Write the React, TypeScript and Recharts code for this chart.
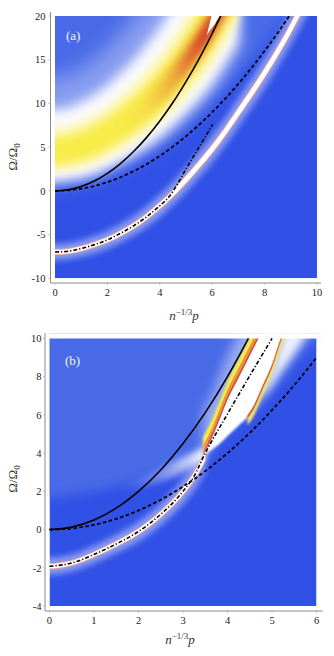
import React from "react";
import { ComposedChart, Area, Line, XAxis, YAxis } from "recharts";

// ---------- panel (a) ----------
const aSolidP = [0, 0.5, 1, 1.5, 2, 2.5, 3, 3.5, 4, 4.5, 5, 5.5, 6, 6.32];
const aSolidW = [0, 0.13, 0.5, 1.12, 2, 3.12, 4.5, 6.12, 8, 10.1, 12.5, 15.1, 18, 20];

const aDashP = [0, 0.5, 1, 1.5, 2, 2.5, 3, 3.5, 4, 4.5, 5, 5.5, 6, 6.5, 7, 7.5, 8, 8.5, 8.94];
const aDashW = [0, 0.06, 0.25, 0.56, 1, 1.56, 2.25, 3.06, 4, 5.06, 6.25, 7.56, 9, 10.56, 12.25, 14.06, 16, 18.06, 20];

const aDotP = [0, 0.5, 1, 1.5, 2, 2.5, 3, 3.5, 4, 4.4, 4.7, 5, 5.5, 6.02];
const aDotW = [-7.0, -6.9, -6.6, -6.15, -5.6, -4.85, -4.0, -2.95, -1.7, -0.5, 0.9, 2.5, 5.0, 7.6];

// thin white/red ridge
const aThinP = [-0.5, 0, 0.5, 1, 1.5, 2, 2.5, 3, 3.5, 4, 4.5, 5, 5.5, 6, 6.5, 7, 7.5, 8, 8.5, 9, 9.3, 9.6];
const aThinC = [-7.0, -7.0, -6.9, -6.6, -6.15, -5.6, -4.85, -4.0, -2.95, -1.7, -0.3, 1.3, 3.0, 4.8, 6.8, 9.0, 11.2, 13.5, 15.95, 18.6, 20.3, 22.0];
const aThinW = [0.26, 0.26, 0.26, 0.27, 0.28, 0.29, 0.3, 0.32, 0.34, 0.36, 0.38, 0.4, 0.42, 0.44, 0.45, 0.47, 0.48, 0.5, 0.51, 0.53, 0.54, 0.55];

// broad yellow/red band
const aBroadP = [-0.5, 0, 0.5, 1, 1.5, 2, 2.5, 3, 3.5, 4, 4.5, 5, 5.5, 6, 6.5, 7];
const aBroadC = [4.4, 4.4, 4.6, 5.0, 5.6, 6.4, 7.4, 8.5, 9.8, 11.2, 12.9, 14.8, 16.9, 19.2, 22.0, 25.0];
const aBroadW = [1.9, 1.9, 1.9, 2.0, 2.1, 2.2, 2.35, 2.5, 2.7, 2.9, 3.15, 3.4, 3.7, 4.0, 4.3, 4.6];

const aSliverP = [5.79, 5.9, 6.0, 6.1, 6.2, 6.3, 6.4];
const aSliverLo = [17.8, 18.3, 18.7, 19.1, 19.6, 20.0, 20.5];
const aSliverHi = [17.8, 19.1, 20.3, 21.0, 21.0, 21.0, 21.0];

// lighter blue region (upper left)
const aShadeP = [-0.5, 0, 1, 2, 3, 4, 5, 6, 7, 8, 9, 10, 10.5];
const aShadeLo = [0.8, 0.8, 1.2, 2.2, 3.6, 5.2, 7.4, 10.0, 13.2, 16.8, 20.8, 25.0, 27.0];

const aTicksX = [0, 2, 4, 6, 8, 10];
const aTicksY = [-10, -5, 0, 5, 10, 15, 20];

// ---------- panel (b) ----------
const bSolidP = [0, 0.5, 1, 1.5, 2, 2.5, 3, 3.5, 4, 4.47];
const bSolidW = [0, 0.13, 0.5, 1.12, 2, 3.12, 4.5, 6.12, 8, 10];

const bDashP = [0, 0.5, 1, 1.5, 2, 2.5, 3, 3.5, 4, 4.5, 5, 5.5, 6];
const bDashW = [0, 0.06, 0.25, 0.56, 1, 1.56, 2.25, 3.06, 4, 5.06, 6.25, 7.56, 9];

const bDotP = [0, 0.5, 1, 1.5, 2, 2.5, 3, 3.25, 3.5, 4, 4.5, 5];
const bDotW = [-1.92, -1.75, -1.3, -0.75, -0.1, 0.8, 2.0, 2.8, 4.0, 6.05, 8.05, 10.0];

const bThinP = [-0.5, 0, 0.5, 1, 1.5, 2, 2.5, 3, 3.25, 3.5];
const bThinC = [-1.92, -1.92, -1.75, -1.3, -0.75, -0.1, 0.8, 2.0, 2.8, 3.85];
const bThinW = [0.12, 0.12, 0.12, 0.125, 0.13, 0.14, 0.155, 0.18, 0.2, 0.23];

const bShadeP = [-0.5, 0, 1, 2, 3, 3.5, 4, 4.5, 5, 5.5, 6, 6.5];
const bShadeLo = [1.7, 1.7, 2.0, 2.6, 3.5, 4.0, 5.0, 6.1, 7.3, 8.6, 9.9, 11.2];

const bEdgeP = [3.45, 3.6, 3.8, 4.0, 4.25, 4.5, 4.75, 5.0, 5.25];
const bEdgeL = [3.95, 4.6, 5.7, 6.85, 8.0, 9.15, 10.3, 11.4, 12.5];

const bRimP = [4.45, 4.6, 4.8, 5.0, 5.2, 5.4, 5.6];
const bRimW = [5.9, 6.45, 7.5, 8.55, 9.95, 11.2, 12.4];

const bGapP = [3.45, 3.6, 3.8, 4.0, 4.25, 4.45, 4.6, 4.8, 5.0, 5.2, 5.4];
const bGapLo = [3.9, 4.1, 4.45, 4.9, 5.45, 5.9, 6.45, 7.5, 8.55, 9.95, 11.2];
const bGapHi = [3.95, 4.6, 5.7, 6.85, 8.0, 8.95, 9.65, 10.6, 11.4, 12.3, 13.2];

const bGlowP = [4.4, 4.6, 4.8, 5.0, 5.2, 5.4, 5.6, 5.8, 6.0];
const bGlowLo = [5.8, 6.35, 6.95, 7.5, 8.2, 8.85, 9.5, 10.2, 10.9];
const bGlowHi = [6.0, 6.45, 7.5, 8.55, 9.95, 11.2, 12.4, 13.5, 14.5];

const bFanP = [1.6, 2.0, 2.5, 3.0, 3.5];
const bFanLo = [2.05, 2.2, 2.5, 3.0, 3.7];
const bFanHi = [2.15, 2.6, 3.2, 3.8, 4.3];

const bTicksX = [0, 1, 2, 3, 4, 5, 6];
const bTicksY = [-4, -2, 0, 2, 4, 6, 8, 10];

// ---------- helpers ----------
type Row = { p: number; v?: number; r?: number[] };
const curve = (ps: number[], ws: number[]): Row[] => ps.map((p, i) => ({ p, v: ws[i] }));
const span = (ps: number[], lo: number[], hi: number[]): Row[] =>
  ps.map((p, i) => ({ p, r: [lo[i], hi[i]] }));
const around = (ps: number[], c: number[], hw: number[], kLo: number, kHi: number): Row[] =>
  ps.map((p, i) => ({ p, r: [c[i] - kLo * hw[i], c[i] + kHi * hw[i]] }));
const offset = (ps: number[], base: number[], dLo: number, dHi: number): Row[] =>
  ps.map((p, i) => ({ p, r: [base[i] + dLo, base[i] + dHi] }));
const flat = (ps: number[], lo: number, hi: number): Row[] => ps.map((p) => ({ p, r: [lo, hi] }));

const SERIF = '"Liberation Serif", "Times New Roman", "DejaVu Serif", serif';
const BLUE = "#3050e6";
const SHADE = "#4a6be7";
const YELLOW = "#f8ec48";
const PALE = "#fcf7b8";
const ORANGE = "#ea9538";
const RED = "#d2452a";
const FRINGE = "#f0a090";

const heat = (key: string, data: Row[], fill: string, blur?: string, opacity = 1) => (
  <Area
    key={key}
    data={data}
    dataKey="r"
    type="monotone"
    stroke="none"
    fill={fill}
    fillOpacity={opacity}
    filter={blur ? `url(#${blur})` : undefined}
    dot={false}
    activeDot={false}
    isAnimationActive={false}
  />
);

const curveLine = (key: string, data: Row[], dash?: string, width = 1.6) => (
  <Line
    key={key}
    data={data}
    dataKey="v"
    type="monotone"
    stroke="#000"
    strokeWidth={width}
    strokeDasharray={dash}
    dot={false}
    activeDot={false}
    isAnimationActive={false}
  />
);

const blurDefs = (prefix: string) => (
  <defs>
    {[0.5, 1, 3, 4, 6, 10].map((s) => (
      <filter key={s} id={`${prefix}${String(s).replace(".", "_")}`} x="-50%" y="-50%" width="200%" height="200%">
        <feGaussianBlur stdDeviation={s} />
      </filter>
    ))}
    <linearGradient id={`${prefix}Or`} x1="0" y1="0" x2="1" y2="0">
      <stop offset="0" stopColor={ORANGE} stopOpacity={0} />
      <stop offset="0.22" stopColor={ORANGE} stopOpacity={0.15} />
      <stop offset="0.45" stopColor={ORANGE} stopOpacity={0.75} />
      <stop offset="0.6" stopColor={ORANGE} stopOpacity={1} />
      <stop offset="1" stopColor={ORANGE} stopOpacity={1} />
    </linearGradient>
    <linearGradient id={`${prefix}Rd`} x1="0" y1="0" x2="1" y2="0">
      <stop offset="0" stopColor={RED} stopOpacity={0} />
      <stop offset="0.2" stopColor={RED} stopOpacity={0.35} />
      <stop offset="0.45" stopColor={RED} stopOpacity={0.95} />
      <stop offset="1" stopColor={RED} stopOpacity={1} />
    </linearGradient>
    <linearGradient id={`${prefix}Fan`} x1="0" y1="0" x2="1" y2="0">
      <stop offset="0" stopColor="#ffffff" stopOpacity={0} />
      <stop offset="0.5" stopColor="#ffffff" stopOpacity={0.35} />
      <stop offset="1" stopColor="#ffffff" stopOpacity={0.9} />
    </linearGradient>
  </defs>
);

const tickFont = { fontFamily: SERIF, fontSize: 10.5, fill: "#222" };
const AXIS = "#8a8a8a";

function PanelA() {
  const xd: [number, number] = [-0.172, 10.153];
  const yd: [number, number] = [-10.54, 20.46];
  return (
    <ComposedChart width={334} height={320} margin={{ top: 12, right: 13, bottom: 0, left: 0 }}>
      {blurDefs("a")}
      <XAxis dataKey="p" type="number" domain={xd} ticks={aTicksX} allowDataOverflow height={37}
        axisLine={{ stroke: AXIS }} tickLine={{ stroke: "#bbb" }} tickSize={2} tickMargin={4} tick={tickFont} />
      <XAxis xAxisId="t" orientation="top" dataKey="p" type="number" domain={xd} ticks={aTicksX} allowDataOverflow
        height={0} axisLine={{ stroke: "#b5b5b5" }} tickLine={{ stroke: "#c8c8c8" }} tickSize={2} tick={false} />
      <YAxis type="number" domain={yd} ticks={aTicksY} allowDataOverflow width={50.5}
        axisLine={{ stroke: AXIS }} tickLine={{ stroke: "#bbb" }} tickSize={2} tickMargin={3} tick={tickFont} />
      <YAxis yAxisId="r" orientation="right" type="number" domain={yd} ticks={aTicksY} allowDataOverflow width={0}
        axisLine={{ stroke: "#d0d0d0" }} tickLine={{ stroke: "#c8c8c8" }} tickSize={2} tick={false} />

      {heat("bg", flat([0, 10], -10, 20), BLUE)}
      {heat("shade", span(aShadeP, aShadeLo, aShadeP.map(() => 32)), SHADE, "a6")}
      {heat("glow", around(aBroadP, aBroadC, aBroadW, 1.9, 4.5), "#ffffff", "a10", 0.35)}
      {heat("halo", around(aBroadP, aBroadC, aBroadW, 1.75, 2.6), "#ffffff", "a6", 0.95)}
      {heat("pale", around(aBroadP, aBroadC, aBroadW, 1.2, 1.5), PALE, "a4")}
      {heat("yel", around(aBroadP, aBroadC, aBroadW, 0.75, 0.9), YELLOW, "a4")}
      {heat("or", around(aBroadP.slice(6), aBroadC.slice(6), aBroadW.slice(6), 0.5, 0.5), "url(#aOr)", "a4")}
      {heat("rd", around(aBroadP.slice(10), aBroadC.slice(10), aBroadW.slice(10), 0.3, 0.3), "url(#aRd)", "a3")}
      {heat("sliver", span(aSliverP, aSliverLo, aSliverHi), "#ffffff", "a0_5")}

      {heat("thinHalo", around(aThinP, aThinC, aThinW, 3.4, 3.4), "#ffffff", "a3", 0.45)}
      {heat("thinFringe", around(aThinP, aThinC, aThinW, 1.35, 1.35), FRINGE, "a0_5")}
      {heat("thinCore", around(aThinP, aThinC, aThinW, 1, 1), "#ffffff", "a0_5")}

      {heat("mL", flat([-1, 0], -12, 22), "#ffffff")}
      {heat("mR", flat([10, 11], -12, 22), "#ffffff")}
      {heat("mT", flat([-1, 11], 20, 22), "#ffffff")}
      {heat("mB", flat([-1, 11], -12, -10), "#ffffff")}

      {curveLine("solid", curve(aSolidP, aSolidW))}
      {curveLine("dash", curve(aDashP, aDashW), "3.5 2.5", 1.8)}
      {curveLine("dot", curve(aDotP, aDotW), "4 2 1.2 2", 1.6)}
    </ComposedChart>
  );
}

function PanelB() {
  const xd: [number, number] = [-0.101, 6.139];
  const yd: [number, number] = [-4.26, 10.27];
  return (
    <ComposedChart width={334} height={327} margin={{ top: 12.3, right: 11.3, bottom: 0, left: 0 }}>
      {blurDefs("b")}
      <XAxis dataKey="p" type="number" domain={xd} ticks={bTicksX} allowDataOverflow height={37}
        axisLine={{ stroke: AXIS }} tickLine={{ stroke: "#bbb" }} tickSize={2} tickMargin={4} tick={tickFont} />
      <XAxis xAxisId="t" orientation="top" dataKey="p" type="number" domain={xd} ticks={bTicksX} allowDataOverflow
        height={0} axisLine={false} tickLine={{ stroke: "#c8c8c8" }} tickSize={2} tick={false} />
      <YAxis type="number" domain={yd} ticks={bTicksY} allowDataOverflow width={45}
        axisLine={{ stroke: AXIS }} tickLine={{ stroke: "#bbb" }} tickSize={2} tickMargin={1.5} tick={tickFont} />
      <YAxis yAxisId="r" orientation="right" type="number" domain={yd} ticks={bTicksY} allowDataOverflow width={0}
        axisLine={false} tickLine={{ stroke: "#c8c8c8" }} tickSize={2} tick={false} />

      {heat("bg", flat([0, 6], -4, 10), BLUE)}
      {heat("shade", span(bShadeP, bShadeLo, bShadeP.map(() => 12)), SHADE, "b6")}
      {heat("fan", span(bFanP, bFanLo, bFanHi), "url(#bFan)", "b3")}
      {heat("haze", offset(bEdgeP, bEdgeL, -0.3, 2.2), "#ffffff", "b6", 0.45)}
      {heat("glow", span(bGlowP, bGlowLo, bGlowHi), "#ffffff", "b4", 0.9)}
      {heat("gap", span(bGapP, bGapLo, bGapHi), "#ffffff", "b1")}

      {heat("eY", offset(bEdgeP, bEdgeL, 0.3, 0.9), YELLOW, "b1")}
      {heat("eO", offset(bEdgeP, bEdgeL, 0.08, 0.45), ORANGE, "b0_5")}
      {heat("eR", offset(bEdgeP, bEdgeL, -0.04, 0.12), RED, "b0_5")}
      {heat("rY", offset(bRimP, bRimW, -0.45, -0.05), "#f6ea70", "b1")}
      {heat("rO", offset(bRimP, bRimW, -0.12, 0.08), ORANGE, "b0_5")}
      {heat("rR", offset(bRimP, bRimW, -0.03, 0.06), RED, "b0_5")}

      {heat("thinHalo", around(bThinP, bThinC, bThinW, 3.6, 3.6), "#ffffff", "b3", 0.45)}
      {heat("thinFringe", around(bThinP, bThinC, bThinW, 1.35, 1.35), FRINGE, "b0_5")}
      {heat("thinCore", around(bThinP, bThinC, bThinW, 1, 1), "#ffffff", "b0_5")}

      {heat("mL", flat([-1, 0], -6, 12), "#ffffff")}
      {heat("mR", flat([6, 7], -6, 12), "#ffffff")}
      {heat("mT", flat([-1, 7], 10, 12), "#ffffff")}
      {heat("mB", flat([-1, 7], -6, -4), "#ffffff")}

      {curveLine("solid", curve(bSolidP, bSolidW))}
      {curveLine("dash", curve(bDashP, bDashW), "3.5 2.5", 1.8)}
      {curveLine("dot", curve(bDotP, bDotW), "4 2 1.2 2", 1.6)}
    </ComposedChart>
  );
}

const labelBase: React.CSSProperties = {
  position: "absolute",
  transform: "translate(-50%, -50%)",
  whiteSpace: "nowrap",
  fontFamily: SERIF,
  color: "#333",
  lineHeight: 1,
};

function XLabel({ x, y }: { x: number; y: number }) {
  return (
    <div style={{ ...labelBase, left: x, top: y, fontSize: 13 }}>
      <i>n</i>
      <sup style={{ fontSize: 9 }}>−1/3</sup>
      <i>p</i>
    </div>
  );
}

function YLabel({ x, y }: { x: number; y: number }) {
  return (
    <div style={{ ...labelBase, left: x, top: y, fontSize: 13, transform: "translate(-50%, -50%) rotate(-90deg)" }}>
      Ω/Ω<sub style={{ fontSize: 9 }}>0</sub>
    </div>
  );
}

export default function App() {
  return (
    <div style={{ position: "absolute", left: 0, top: 0, width: 334, height: 656, background: "#fff" }}>
      <div style={{ position: "absolute", left: 0, top: 0 }}>
        <PanelA />
      </div>
      <div style={{ position: "absolute", left: 0, top: 321 }}>
        <PanelB />
      </div>
      <div style={{ ...labelBase, transform: "none", left: 66, top: 29, fontSize: 13, color: "#f2f4ff" }}>(a)</div>
      <div style={{ ...labelBase, transform: "none", left: 65, top: 354, fontSize: 13, color: "#f2f4ff" }}>(b)</div>
      <XLabel x={184} y={315} />
      <XLabel x={180} y={639} />
      <YLabel x={14} y={157} />
      <YLabel x={14} y={479} />
    </div>
  );
}
